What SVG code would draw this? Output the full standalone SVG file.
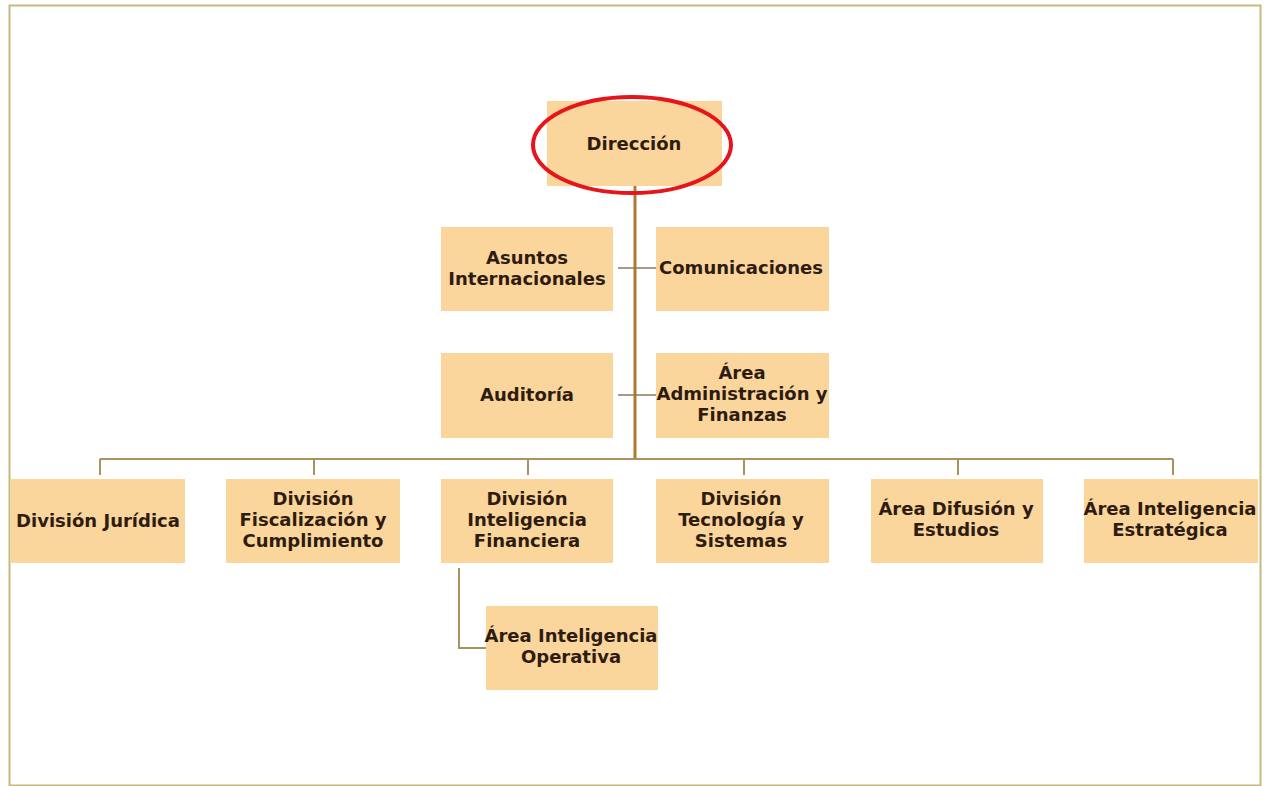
<svg xmlns="http://www.w3.org/2000/svg" width="1270" height="786" viewBox="0 0 1270 786">
<defs>
<style>
.box{fill:#fad59c}
.t{font-family:"DejaVu Sans",Verdana,sans-serif;font-weight:bold;font-size:18px;fill:#2e1c10;text-anchor:middle}
.main{stroke:#b27a30;stroke-width:3;fill:none}
.ln{stroke:#a8935e;stroke-width:2;fill:none}
.stub{stroke:#8a7a5a;stroke-width:1.5;fill:none}
</style>
</defs>
<rect x="0" y="0" width="1270" height="786" fill="#ffffff"/>
<rect x="9.5" y="5.5" width="1251" height="780" fill="none" stroke="#c9b87e" stroke-width="2"/>
<g id="connectors">
<line class="main" x1="635" y1="186" x2="635" y2="460"/>
<line class="ln" x1="100" y1="459" x2="1173" y2="459"/>
<line class="ln" x1="100" y1="459" x2="100" y2="475"/>
<line class="ln" x1="314" y1="459" x2="314" y2="475"/>
<line class="ln" x1="528" y1="459" x2="528" y2="475"/>
<line class="ln" x1="744" y1="459" x2="744" y2="475"/>
<line class="ln" x1="958" y1="459" x2="958" y2="475"/>
<line class="ln" x1="1173" y1="459" x2="1173" y2="475"/>
<line class="stub" x1="618" y1="268" x2="656" y2="268"/>
<line class="stub" x1="618" y1="395" x2="656" y2="395"/>
<polyline class="ln" points="459,568 459,648 486,648"/>
</g>
<g id="n-direccion"><rect class="box" x="547" y="101" width="175" height="85"/><text class="t" x="634" y="150">Dirección</text></g>
<g id="n-asuntos"><rect class="box" x="441" y="227" width="172" height="84"/><text class="t" x="527" y="264">Asuntos</text><text class="t" x="527" y="285">Internacionales</text></g>
<g id="n-comunicaciones"><rect class="box" x="656" y="227" width="173" height="84"/><text class="t" x="741" y="274">Comunicaciones</text></g>
<g id="n-auditoria"><rect class="box" x="441" y="353" width="172" height="85"/><text class="t" x="527" y="401">Auditoría</text></g>
<g id="n-admin"><rect class="box" x="656" y="353" width="173" height="85"/><text class="t" x="742" y="379">Área</text><text class="t" x="742" y="400">Administración y</text><text class="t" x="742" y="421">Finanzas</text></g>
<g id="n-juridica"><rect class="box" x="11" y="479" width="174" height="84"/><text class="t" x="98" y="527">División Jurídica</text></g>
<g id="n-fiscalizacion"><rect class="box" x="226" y="479" width="174" height="84"/><text class="t" x="313" y="505">División</text><text class="t" x="313" y="526">Fiscalización y</text><text class="t" x="313" y="547">Cumplimiento</text></g>
<g id="n-financiera"><rect class="box" x="441" y="479" width="172" height="84"/><text class="t" x="527" y="505">División</text><text class="t" x="527" y="526">Inteligencia</text><text class="t" x="527" y="547">Financiera</text></g>
<g id="n-tecnologia"><rect class="box" x="656" y="479" width="173" height="84"/><text class="t" x="741" y="505">División</text><text class="t" x="741" y="526">Tecnología y</text><text class="t" x="741" y="547">Sistemas</text></g>
<g id="n-difusion"><rect class="box" x="871" y="479" width="172" height="84"/><text class="t" x="956" y="515">Área Difusión y</text><text class="t" x="956" y="536">Estudios</text></g>
<g id="n-estrategica"><rect class="box" x="1084" y="479" width="174" height="84"/><text class="t" x="1170" y="515">Área Inteligencia</text><text class="t" x="1170" y="536">Estratégica</text></g>
<g id="n-operativa"><rect class="box" x="486" y="606" width="172" height="84"/><text class="t" x="571" y="642">Área Inteligencia</text><text class="t" x="571" y="663">Operativa</text></g>
<ellipse cx="632" cy="145" rx="99" ry="48" fill="none" stroke="#e8141c" stroke-width="4"/>
</svg>
